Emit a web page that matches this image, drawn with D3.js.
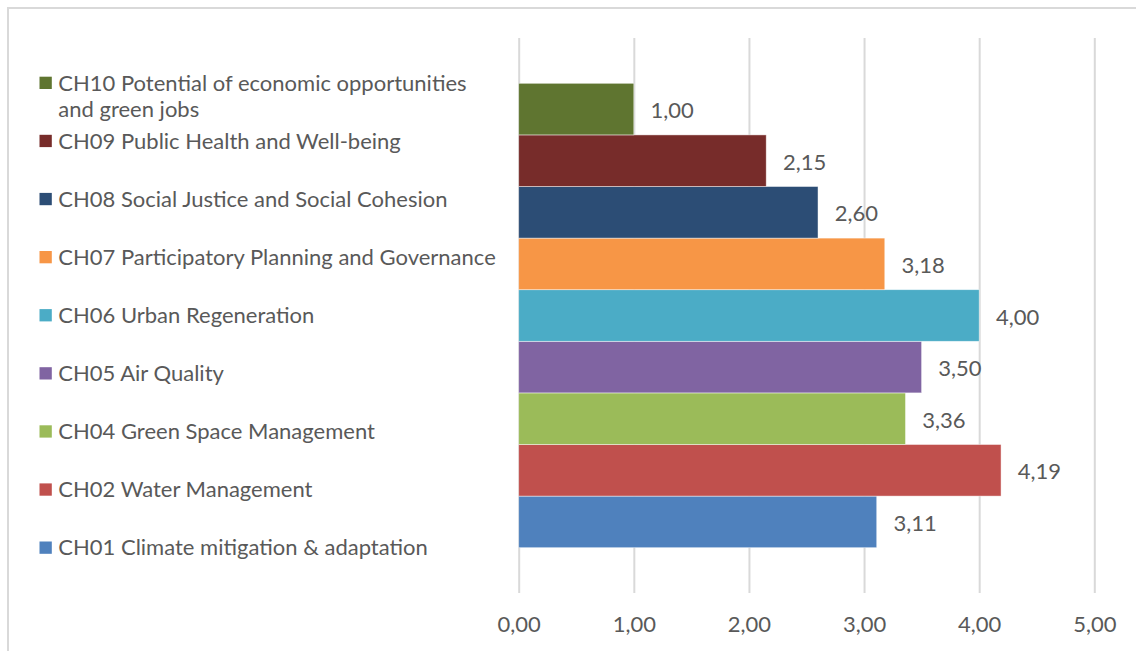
<!DOCTYPE html>
<html>
<head>
<meta charset="utf-8">
<script src="https://cdn.jsdelivr.net/npm/d3@7"></script>
<style>
  html, body { margin: 0; padding: 0; background: #fff; }
  svg { display: block; }
  text { font-family: Lato, "Noto Sans", sans-serif; fill: #595959; }
</style>
</head>
<body>
<svg id="chart" width="1136" height="651"></svg>
<script>
// Challenge scores, one bar per challenge
const categories = [
  "CH01 Climate mitigation & adaptation",
  "CH02 Water Management",
  "CH04 Green Space Management",
  "CH05 Air Quality",
  "CH06 Urban Regeneration",
  "CH07 Participatory Planning and Governance",
  "CH08 Social Justice and Social Cohesion",
  "CH09 Public Health and Well-being",
  "CH10 Potential of economic opportunities and green jobs"
];
const values = [3.11, 4.19, 3.36, 3.50, 4.00, 3.18, 2.60, 2.15, 1.00];
const colors = [
  "#4F81BD", "#C0504D", "#9BBB59", "#8064A2", "#4BACC6",
  "#F79646", "#2C4D75", "#772C2A", "#5F7530"
];
const xTicks = [0, 1, 2, 3, 4, 5];

const data = categories.map((name, i) => ({ name, value: values[i], color: colors[i] }));
const fontSize = 22;

const svg = d3.select("#chart");
const W = 1136, H = 651;

svg.append("rect").attr("width", W).attr("height", H).attr("fill", "#fff");
// chart frame
svg.append("rect")
  .attr("x", 8).attr("y", 8)
  .attr("width", W + 20).attr("height", H + 20)
  .attr("fill", "none").attr("stroke", "#d9d9d9").attr("stroke-width", 2);

const plot = { top: 38, bottom: 593, left: 518.7, right: 1094.3 };

const x = d3.scaleLinear().domain([0, 5]).range([plot.left, plot.right]);
const y = d3.scaleBand()
  .domain(categories.slice().reverse())
  .range([plot.top, plot.bottom])
  .paddingInner(0)
  .paddingOuter(0.878);

const locale = d3.formatLocale({ decimal: ",", thousands: ".", grouping: [3], currency: ["", " €"] });
const fmt = locale.format(".2f");

// vertical gridlines
const grid = svg.append("g")
  .attr("transform", `translate(0,${plot.bottom})`)
  .call(d3.axisBottom(x).tickValues(xTicks).tickSize(-(plot.bottom - plot.top)).tickFormat(""));
grid.select(".domain").remove();
grid.selectAll("line").attr("stroke", "#d9d9d9").attr("stroke-width", 2);

// tick labels
const axis = svg.append("g")
  .attr("transform", `translate(0,${plot.bottom})`)
  .call(d3.axisBottom(x).tickValues(xTicks).tickSize(0).tickFormat(fmt));
axis.select(".domain").remove();
axis.selectAll("text")
  .attr("y", 39).attr("dy", 0)
  .attr("font-size", fontSize)
  .style("font-family", "Lato, 'Noto Sans', sans-serif")
  .attr("fill", "#595959");

// bars
svg.append("g").selectAll("rect")
  .data(data)
  .join("rect")
  .attr("x", x(0))
  .attr("y", d => y(d.name))
  .attr("width", d => x(d.value) - x(0))
  .attr("height", y.bandwidth())
  .attr("fill", d => d.color)
  .attr("stroke", "#ffffff")
  .attr("stroke-opacity", 0.6)
  .attr("stroke-width", 0.75);

// value labels
svg.append("g").selectAll("text")
  .data(data)
  .join("text")
  .attr("x", d => x(d.value) + 16.7)
  .attr("y", d => y(d.name) + y.bandwidth() / 2 + 9)
  .attr("font-size", fontSize)
  .text(d => fmt(d.value));

// legend, top entry first
const legendData = data.slice().reverse();
const legend = svg.append("g");
const maxLine = 444;
legendData.forEach((d, i) => {
  const cy = 83 + i * 58.1;
  const g = legend.append("g");
  g.append("rect")
    .attr("x", 39.5).attr("y", cy - 6.3)
    .attr("width", 12.3).attr("height", 12.3)
    .attr("fill", d.color);
  const t = g.append("text")
    .attr("x", 58.3).attr("y", cy + 7.6)
    .attr("font-size", fontSize);
  // wrap long names onto extra lines
  const words = d.name.split(" ");
  let line = [];
  let tspan = t.append("tspan").attr("x", 58.3);
  words.forEach(w => {
    line.push(w);
    tspan.text(line.join(" "));
    if (tspan.node().getComputedTextLength() > maxLine && line.length > 1) {
      line.pop();
      tspan.text(line.join(" "));
      line = [w];
      tspan = t.append("tspan").attr("x", 58.3).attr("dy", 26.5).text(w);
    }
  });
});
</script>
</body>
</html>
